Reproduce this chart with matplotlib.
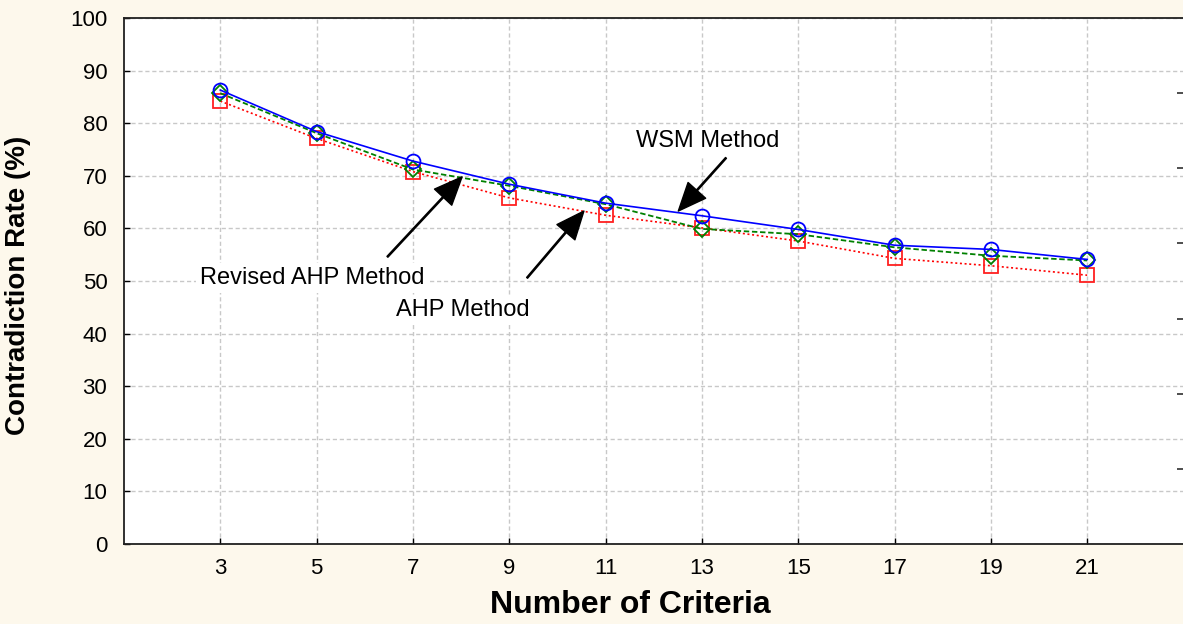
import matplotlib
matplotlib.use("Agg")
import matplotlib.pyplot as plt
import numpy as np

plt.rcParams['font.family'] = ['Liberation Sans', 'DejaVu Sans']

criteria = [3, 5, 7, 9, 11, 13, 15, 17, 19, 21]
wsm = [86.3, 78.4, 72.8, 68.4, 64.8, 62.4, 59.8, 56.8, 56.0, 54.1]
revised_ahp = [85.7, 78.1, 71.2, 68.1, 64.6, 59.9, 58.9, 56.4, 54.8, 53.9]
ahp = [84.2, 77.1, 70.8, 65.8, 62.5, 60.1, 57.6, 54.3, 52.9, 51.1]
yticks = list(range(0, 101, 10))

bg = '#FDF8EC'
W, H = 1183, 624
fig = plt.figure(figsize=(W / 100, H / 100), dpi=100, facecolor=bg)
left, right, top, bottom = 124, 1183.5, 18, 544
ax = fig.add_axes([left / W, 1 - bottom / H, (right - left) / W, (bottom - top) / H])
ax.set_facecolor('white')

ax.plot(criteria, ahp, color='#FF0000', linestyle=(0, (1.2, 1.6)), linewidth=1.2,
        marker='s', markersize=9.5, markerfacecolor='none', markeredgecolor='#FF2020',
        markeredgewidth=1.3, zorder=3)
ax.plot(criteria, revised_ahp, color='#008000', linestyle=(0, (3, 1.5)), linewidth=1.3,
        marker='D', markersize=8, markerfacecolor='none', markeredgecolor='#008000',
        markeredgewidth=1.3, zorder=4)
ax.plot(criteria, wsm, color='#0000FF', linestyle='-', linewidth=1.2,
        marker='o', markersize=10, markerfacecolor='none', markeredgecolor='#0000FF',
        markeredgewidth=1.3, zorder=5)

ax.set_xlim(1, 23)
ax.set_ylim(0, 100)
ax.set_xticks(criteria)
ax.set_xticklabels([str(c) for c in criteria])
ax.set_yticks(yticks)
ax.set_yticklabels([str(v) for v in yticks])
ax.tick_params(axis='both', direction='in', length=4, width=1, labelsize=16, colors='black')
ax.tick_params(axis='y', pad=12)
ax.tick_params(axis='x', pad=10)
ax.grid(True, color='#C8C8C8', linestyle=(0, (3, 2)), linewidth=1)
ax.set_axisbelow(True)

for side in ['left', 'bottom', 'top']:
    ax.spines[side].set_color('#202020')
    ax.spines[side].set_linewidth(1.3)
ax.spines['right'].set_visible(False)

# right side secondary ticks
ax2 = ax.twinx()
ax2.set_ylim(0, 7)
ax2.set_yticks([1, 2, 3, 4, 5, 6])
ax2.set_yticklabels([])
ax2.tick_params(axis='y', direction='in', length=4, width=1.2, colors='#303030')
for side in ['left', 'bottom', 'top', 'right']:
    ax2.spines[side].set_visible(False)

fig.text(630 / W, 1 - 605 / H, 'Number of Criteria', fontsize=23, fontweight='bold',
         ha='center', va='center')
fig.text(18 / W, 1 - 285 / H, 'Contradiction Rate (%)', fontsize=20, fontweight='bold',
         ha='center', va='center', rotation=90)

box = dict(facecolor='white', edgecolor='none', pad=3)
aprops = dict(facecolor='black', edgecolor='black', width=0.9, headwidth=17,
              headlength=20, shrink=0)

ax.text(13.13, 76.6, 'WSM Method', fontsize=17, ha='center', va='center', bbox=box, zorder=6)
ax.annotate('', xy=(12.51, 63.3), xytext=(13.50, 73.4), arrowprops=aprops, zorder=7)

ax.text(4.91, 50.6, 'Revised AHP Method', fontsize=17, ha='center', va='center', bbox=box, zorder=6)
ax.annotate('', xy=(8.02, 69.8), xytext=(6.47, 54.6), arrowprops=aprops, zorder=7)

ax.text(8.04, 44.5, 'AHP Method', fontsize=17, ha='center', va='center', bbox=box, zorder=6)
ax.annotate('', xy=(10.55, 63.3), xytext=(9.37, 50.6), arrowprops=aprops, zorder=7)

fig.savefig('out.png', dpi=100, facecolor=bg)
